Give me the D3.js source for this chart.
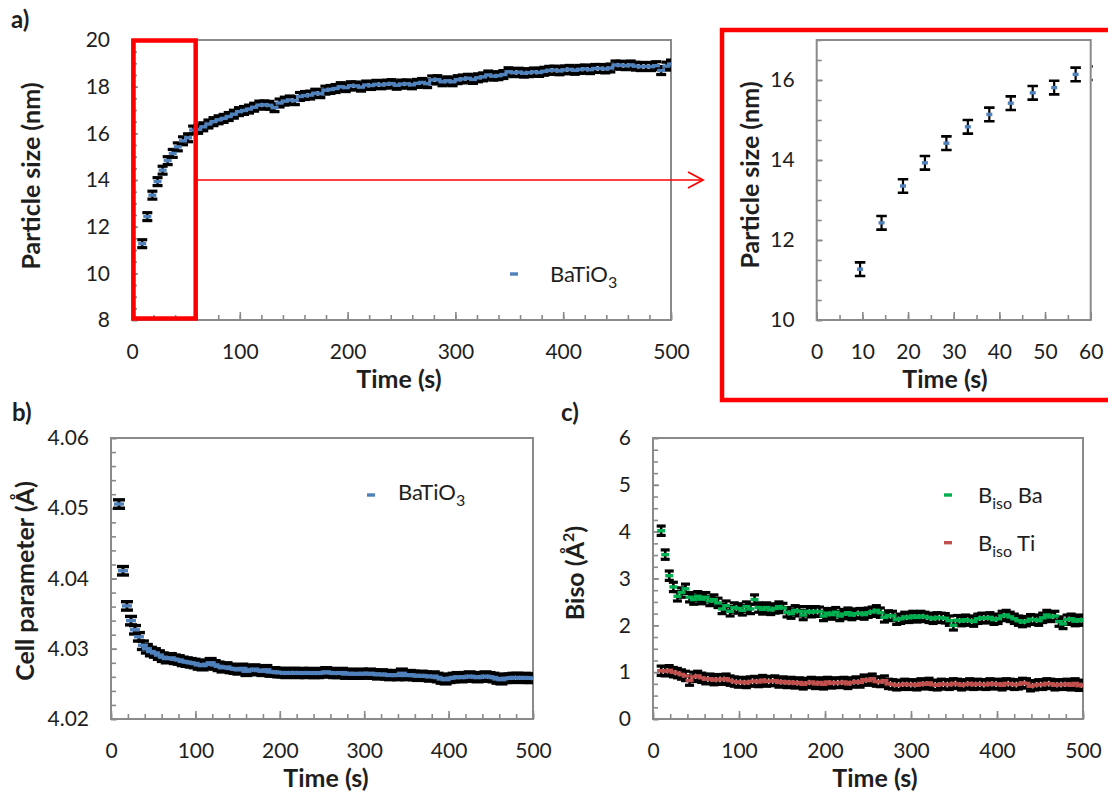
<!DOCTYPE html>
<html><head><meta charset="utf-8">
<script src="https://cdn.jsdelivr.net/npm/d3@7"></script>
<style>
body{margin:0;background:#fff}
svg{display:block}
text{font-family:Lato,'Open Sans',sans-serif;fill:#1e1e1e}
</style>
</head><body>
<svg id="chart" width="1108" height="796"></svg>
<script>
// ---- data ----
const times = [
  9.5, 14.2, 18.9, 23.7, 28.4, 33.1, 37.8, 42.5, 47.3, 52.0,
  56.7, 61.4, 66.1, 70.9, 75.6, 80.3, 85.0, 89.7, 94.5, 99.2,
  103.9, 108.6, 113.3, 118.1, 122.8, 127.5, 132.2, 136.9, 141.7, 146.4,
  151.1, 155.8, 160.5, 165.3, 170.0, 174.7, 179.4, 184.1, 188.9, 193.6,
  198.3, 203.0, 207.7, 212.5, 217.2, 221.9, 226.6, 231.3, 236.1, 240.8,
  245.5, 250.2, 254.9, 259.7, 264.4, 269.1, 273.8, 278.5, 283.3, 288.0,
  292.7, 297.4, 302.1, 306.9, 311.6, 316.3, 321.0, 325.7, 330.5, 335.2,
  339.9, 344.6, 349.3, 354.1, 358.8, 363.5, 368.2, 372.9, 377.7, 382.4,
  387.1, 391.8, 396.5, 401.3, 406.0, 410.7, 415.4, 420.1, 424.9, 429.6,
  434.3, 439.0, 443.7, 448.5, 453.2, 457.9, 462.6, 467.3, 472.1, 476.8,
  481.5, 486.2, 490.9, 495.7, 500.0
];
const particleSize = [
  11.27, 12.43, 13.35, 13.93, 14.42, 14.83, 15.14, 15.42, 15.68, 15.81,
  16.14, 16.17, 16.28, 16.40, 16.50, 16.58, 16.64, 16.72, 16.82, 16.93,
  16.98, 17.04, 17.12, 17.21, 17.22, 17.20, 17.10, 17.30, 17.38, 17.43,
  17.40, 17.58, 17.62, 17.64, 17.72, 17.70, 17.85, 17.88, 17.92, 18.00,
  17.96, 18.04, 18.03, 17.98, 18.07, 18.05, 18.10, 18.08, 18.11, 18.13,
  18.06, 18.11, 18.12, 18.08, 18.14, 18.18, 18.13, 18.29, 18.30, 18.21,
  18.25, 18.21, 18.30, 18.33, 18.36, 18.31, 18.38, 18.42, 18.50, 18.45,
  18.47, 18.52, 18.64, 18.60, 18.62, 18.58, 18.60, 18.63, 18.61, 18.66,
  18.70, 18.71, 18.68, 18.72, 18.74, 18.70, 18.74, 18.76, 18.73, 18.78,
  18.78, 18.76, 18.80, 18.93, 18.92, 18.90, 18.93, 18.88, 18.86, 18.87,
  18.86, 18.90, 18.69, 18.88, 18.97
];
const cellParameter = [
  4.0506, 4.0411, 4.0361, 4.0340, 4.0327, 4.0317, 4.0305, 4.0300, 4.0296, 4.0294,
  4.0291, 4.0288, 4.0286, 4.0287, 4.0285, 4.0284, 4.0282, 4.0281, 4.0280, 4.0279,
  4.0277, 4.0276, 4.0278, 4.0280, 4.0277, 4.0275, 4.0273, 4.0274, 4.0272, 4.0271,
  4.0270, 4.0272, 4.0268, 4.0270, 4.0271, 4.0269, 4.0268, 4.0270, 4.0267, 4.0267,
  4.0266, 4.0266, 4.0265, 4.0266, 4.0266, 4.0265, 4.0266, 4.0265, 4.0266, 4.0265,
  4.0265, 4.0266, 4.0267, 4.0266, 4.0265, 4.0265, 4.0266, 4.0264, 4.0265, 4.0264,
  4.0264, 4.0265, 4.0264, 4.0265, 4.0264, 4.0263, 4.0264, 4.0263, 4.0262, 4.0263,
  4.0262, 4.0265, 4.0262, 4.0263, 4.0262, 4.0261, 4.0262, 4.0261, 4.0260, 4.0261,
  4.0259, 4.0257, 4.0256, 4.0258, 4.0259, 4.0260, 4.0259, 4.0260, 4.0261, 4.0260,
  4.0259, 4.0260, 4.0261, 4.0260, 4.0259, 4.0257, 4.0256, 4.0258, 4.0258, 4.0259,
  4.0259, 4.0258, 4.0259, 4.0258, 4.0258
];
const bisoBa = [
  4.02, 3.51, 3.06, 2.82, 2.62, 2.70, 2.78, 2.60, 2.55, 2.62,
  2.56, 2.60, 2.52, 2.55, 2.48, 2.35, 2.42, 2.30, 2.38, 2.36,
  2.32, 2.40, 2.35, 2.55, 2.38, 2.34, 2.38, 2.33, 2.36, 2.40,
  2.37, 2.28, 2.25, 2.32, 2.30, 2.22, 2.30, 2.28, 2.30, 2.29,
  2.20, 2.26, 2.23, 2.28, 2.20, 2.24, 2.27, 2.22, 2.25, 2.26,
  2.23, 2.27, 2.29, 2.32, 2.27, 2.17, 2.21, 2.20, 2.12, 2.14,
  2.18, 2.16, 2.20, 2.17, 2.20, 2.18, 2.16, 2.14, 2.17, 2.16,
  2.15, 2.10, 2.00, 2.11, 2.09, 2.12, 2.10, 2.08, 2.14, 2.16,
  2.15, 2.17, 2.12, 2.14, 2.20, 2.22, 2.18, 2.14, 2.10, 2.07,
  2.09, 2.13, 2.12, 2.10, 2.16, 2.22, 2.18, 2.20, 2.08, 2.03,
  2.12, 2.14, 2.09, 2.12, 2.10
];
const bisoTi = [
  1.03, 1.02, 1.04, 1.00, 0.98, 0.95, 0.92, 0.82, 0.90, 0.92,
  0.88, 0.85, 0.86, 0.83, 0.85, 0.84, 0.86, 0.82, 0.80, 0.78,
  0.79, 0.77, 0.80, 0.81, 0.79, 0.83, 0.80, 0.81, 0.82, 0.78,
  0.80, 0.77, 0.79, 0.76, 0.78, 0.74, 0.77, 0.79, 0.75, 0.78,
  0.74, 0.79, 0.76, 0.78, 0.77, 0.79, 0.75, 0.78, 0.80, 0.78,
  0.84, 0.82, 0.86, 0.80, 0.79, 0.82, 0.75, 0.74, 0.72, 0.73,
  0.75, 0.73, 0.74, 0.72, 0.76, 0.74, 0.77, 0.73, 0.72, 0.75,
  0.74, 0.73, 0.76, 0.75, 0.72, 0.74, 0.76, 0.73, 0.75, 0.74,
  0.73, 0.76, 0.74, 0.75, 0.72, 0.76, 0.75, 0.73, 0.74, 0.77,
  0.76, 0.70, 0.72, 0.74, 0.73, 0.76, 0.75, 0.72, 0.74, 0.73,
  0.75, 0.72, 0.76, 0.71, 0.73
];
const sizeErr = 0.17, cellErr = 0.0006, bisoErr = 0.1;

const xTicksMain = [0, 100, 200, 300, 400, 500];
const xTicksInset = [0, 10, 20, 30, 40, 50, 60];
const yTicksSize = [8, 10, 12, 14, 16, 18, 20];
const yTicksInset = [10, 12, 14, 16];
const yTicksCell = [4.02, 4.03, 4.04, 4.05, 4.06];
const yTicksBiso = [0, 1, 2, 3, 4, 5, 6];

// ---- styling ----
const AXIS = '#8a8a8a';
const BLUE = '#4f81bd', GREEN = '#00b050', RED = '#c0504d';
const TICKFS = 21, TITLEFS = 25;

const svg = d3.select('#chart');
let clipId = 0;

function panel(o) {
  const x = d3.scaleLinear().domain(o.xd).range(o.xr);
  const y = d3.scaleLinear().domain(o.yd).range(o.yr);
  const g = svg.append('g');
  const xMinor = d3.range(o.xd[0], o.xd[1] + 1e-9, o.xMinor);
  const yMinor = d3.range(0, Math.round((o.yd[1] - o.yd[0]) / o.yMinor) + 1).map(i => o.yd[0] + i * o.yMinor);
  g.append('g').attr('transform', `translate(0,${o.yr[0]})`)
    .call(d3.axisBottom(x).tickValues(xMinor).tickSize(-5).tickFormat(''));
  g.append('g').attr('transform', `translate(${o.xr[0]},0)`)
    .call(d3.axisLeft(y).tickValues(yMinor).tickSize(-5).tickFormat(''));
  g.append('g').attr('transform', `translate(0,${o.yr[0]})`)
    .call(d3.axisBottom(x).tickValues(o.xTicks).tickSize(-8).tickPadding(24).tickFormat(d3.format('d')));
  g.append('g').attr('transform', `translate(${o.xr[0]},0)`)
    .call(d3.axisLeft(y).tickValues(o.yTicks).tickSize(-6).tickPadding(22).tickFormat(o.yFmt));
  g.selectAll('.domain').remove();
  g.selectAll('.tick line').attr('stroke', AXIS).attr('stroke-width', 1.6);
  g.selectAll('.tick text').attr('font-size', TICKFS).attr('fill', '#1e1e1e')
    .style('font-family', "Lato,'Open Sans',sans-serif");
  g.append('rect').attr('x', o.xr[0]).attr('y', o.yr[1])
    .attr('width', o.xr[1] - o.xr[0]).attr('height', o.yr[0] - o.yr[1])
    .attr('fill', 'none').attr('stroke', AXIS).attr('stroke-width', 2);
  g.append('text').attr('x', o.xTitleX).attr('y', o.yr[0] + 68)
    .attr('text-anchor', 'middle').attr('font-size', TITLEFS).attr('font-weight', 'bold')
    .text('Time (s)');
  const yt = g.append('text').attr('transform', `translate(${o.yTitleX},${o.yTitleY}) rotate(-90)`)
    .attr('text-anchor', 'middle').attr('font-size', TITLEFS).attr('font-weight', 'bold');
  o.yTitle(yt);
  return {x, y, g};
}

function drawSeries(p, xs, ys, err, color, opt) {
  const id = 'clip' + (clipId++);
  const xr = p.x.range(), yr = p.y.range();
  svg.append('clipPath').attr('id', id).append('rect')
    .attr('x', xr[0]).attr('y', yr[1] - 20).attr('width', xr[1] - xr[0] + (opt.extra || 0))
    .attr('height', yr[0] - yr[1] + 40);
  const pts = xs.map((t, i) => ({t, v: ys[i]})).filter(d => d.t <= p.x.domain()[1] + 5);
  const g = p.g.append('g').attr('clip-path', `url(#${id})`);
  const cap = opt.cap, mw = opt.mw;
  const s = g.selectAll('g.pt').data(pts).join('g').attr('class', 'pt');
  s.append('line').attr('x1', d => p.x(d.t)).attr('x2', d => p.x(d.t))
    .attr('y1', d => p.y(d.v - err)).attr('y2', d => p.y(d.v + err))
    .attr('stroke', '#000').attr('stroke-width', opt.vw || 2.2);
  [-1, 1].forEach(sg => {
    s.append('line').attr('x1', d => p.x(d.t) - cap / 2).attr('x2', d => p.x(d.t) + cap / 2)
      .attr('y1', d => p.y(d.v + sg * err)).attr('y2', d => p.y(d.v + sg * err))
      .attr('stroke', '#000').attr('stroke-width', opt.cw || 3);
  });
  g.selectAll('rect.mk').data(pts).join('rect').attr('class', 'mk')
    .attr('x', d => p.x(d.t) - mw / 2).attr('y', d => p.y(d.v) - 1.7)
    .attr('width', mw).attr('height', 3.4).attr('fill', color);
}

// ---- panel a: main ----
const pa = panel({
  xd: [0, 500], yd: [8, 20], xr: [132, 671], yr: [320, 40],
  xTicks: xTicksMain, yTicks: yTicksSize, xMinor: 20, yMinor: 0.5, yFmt: d3.format('d'),
  xTitleX: 399, yTitleX: 40, yTitleY: 176,
  yTitle: t => t.text('Particle size (nm)')
});
drawSeries(pa, times, particleSize, sizeErr, BLUE, {cap: 10, mw: 8, vw: 2.4, cw: 3.2});

// ---- inset ----
const pi = panel({
  xd: [0, 60], yd: [10, 17], xr: [816.7, 1090.7], yr: [320, 40],
  xTicks: xTicksInset, yTicks: yTicksInset, xMinor: 5, yMinor: 0.5, yFmt: d3.format('d'),
  xTitleX: 945, yTitleX: 759, yTitleY: 175,
  yTitle: t => t.text('Particle size (nm)')
});
drawSeries(pi, times, particleSize, sizeErr, BLUE, {cap: 10.5, mw: 6, extra: 2, vw: 2.2, cw: 2.6});

// ---- panel b ----
const pb = panel({
  xd: [0, 500], yd: [4.02, 4.06], xr: [111, 533], yr: [719, 438],
  xTicks: xTicksMain, yTicks: yTicksCell, xMinor: 20, yMinor: 0.002, yFmt: d3.format('.2f'),
  xTitleX: 326, yTitleX: 34, yTitleY: 581,
  yTitle: t => t.text('Cell parameter (Å)')
});
drawSeries(pb, times, cellParameter, cellErr, BLUE, {cap: 12, mw: 10, vw: 3, cw: 3.4});

// ---- panel c ----
const pc = panel({
  xd: [0, 500], yd: [0, 6], xr: [653, 1083], yr: [719, 438],
  xTicks: xTicksMain, yTicks: yTicksBiso, xMinor: 20, yMinor: 0.25, yFmt: d3.format('d'),
  xTitleX: 875, yTitleX: 584, yTitleY: 573,
  yTitle: t => { t.append('tspan').text('Biso (Å'); t.append('tspan').attr('font-size', 16).attr('dy', -10).text('2'); t.append('tspan').attr('dy', 10).text(')'); }
});
drawSeries(pc, times, bisoBa, bisoErr, GREEN, {cap: 9, mw: 8, vw: 2.6, cw: 3.2});
drawSeries(pc, times, bisoTi, bisoErr, RED, {cap: 9, mw: 8, vw: 2.6, cw: 3.2});

// ---- legends ----
function legend(x, y, color, textX, baseline, parts) {
  svg.append('rect').attr('x', x - 4).attr('y', y - 1.7).attr('width', 8).attr('height', 3.4).attr('fill', color);
  const t = svg.append('text').attr('x', textX).attr('y', baseline).attr('font-size', 22);
  parts(t);
}
const subText = (main, sub, after) => t => {
  t.append('tspan').text(main);
  t.append('tspan').attr('font-size', 16).attr('dy', 6).text(sub);
  if (after) t.append('tspan').attr('dy', -6).text(after);
};
legend(514, 274, BLUE, 550, 281.5, subText('BaTiO', '3'));
legend(371, 495, BLUE, 398, 500, subText('BaTiO', '3'));
legend(948, 495, GREEN, 978, 503, subText('B', 'iso', ' Ba'));
legend(948, 542.7, RED, 978, 551, subText('B', 'iso', ' Ti'));

// ---- panel labels ----
svg.append('text').attr('x', 11).attr('y', 28).attr('font-size', 24).attr('font-weight', 'bold').text('a)');
svg.append('text').attr('x', 12).attr('y', 421).attr('font-size', 24).attr('font-weight', 'bold').text('b)');
svg.append('text').attr('x', 561).attr('y', 421).attr('font-size', 24).attr('font-weight', 'bold').text('c)');

// ---- red zoom box, arrow and inset frame ----
svg.append('rect').attr('x', pa.x(0) + 1.5).attr('y', pa.y(20) + 0.5)
  .attr('width', pa.x(60) - pa.x(0) - 2.5).attr('height', pa.y(8) - pa.y(20) - 2)
  .attr('fill', 'none').attr('stroke', '#ff0000').attr('stroke-width', 4.5);
svg.append('line').attr('x1', pa.x(60)).attr('x2', 702).attr('y1', 180).attr('y2', 180)
  .attr('stroke', '#ff0000').attr('stroke-width', 1.6);
svg.append('path').attr('d', 'M688,172 L703,180 L688,188').attr('fill', 'none')
  .attr('stroke', '#ff0000').attr('stroke-width', 1.8);
svg.append('rect').attr('x', 722).attr('y', 30).attr('width', 420).attr('height', 370)
  .attr('fill', 'none').attr('stroke', '#ff0000').attr('stroke-width', 4.5);
</script>
</body></html>
